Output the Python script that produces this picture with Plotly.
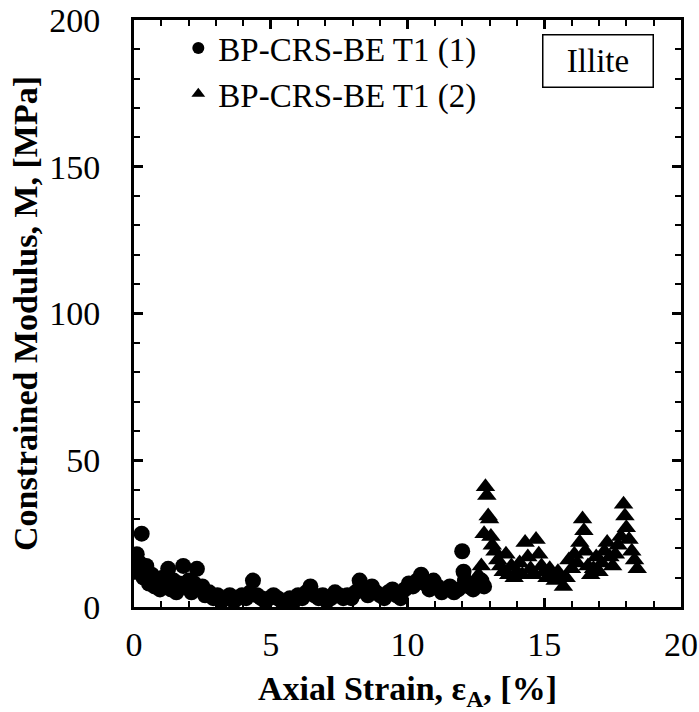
import plotly.graph_objects as go

# BP-CRS-BE T1 (1) - circles
strain_1 = [0.05, 0.1, 0.2, 0.28, 0.35, 0.45, 0.55, 0.65, 0.75, 0.85, 0.95, 1.05, 1.15,
            1.25, 1.35, 1.45, 1.55, 1.65, 1.8, 1.9, 2.0, 2.1, 2.2, 2.3, 2.4, 2.5, 2.6,
            2.75, 2.9, 3.05, 3.2, 3.35, 3.5, 3.65, 3.8, 3.95, 4.1, 4.25, 4.35, 4.5, 4.65,
            4.8, 4.95, 5.1, 5.25, 5.4, 5.55, 5.7, 5.85, 6.0, 6.15, 6.3, 6.45, 6.6, 6.75,
            6.9, 7.05, 7.2, 7.35, 7.5, 7.65, 7.8, 7.95, 8.1, 8.25, 8.4, 8.55, 8.7, 8.85,
            9.0, 9.15, 9.3, 9.45, 9.6, 9.75, 9.9, 10.05, 10.2, 10.35, 10.5, 10.65, 10.8,
            10.95, 11.1, 11.25, 11.4, 11.55, 11.7, 11.85, 12.0, 12.05, 12.1, 12.25, 12.4,
            12.55, 12.7, 12.8]
modulus_1 = [12, 18, 15, 25, 10, 14, 8, 11, 7, 9, 6, 10, 8,
             13, 6, 9, 5, 8, 14, 7, 9, 5, 8, 13, 6, 7, 4,
             5, 3, 4, 2, 3, 4, 2, 3, 4, 3, 5, 9, 4, 3,
             2, 3, 4, 3, 2, 1, 3, 2, 4, 3, 5, 7, 4, 3,
             4, 2, 3, 5, 4, 3, 4, 3, 5, 9, 6, 4, 7, 5,
             4, 3, 5, 6, 4, 3, 6, 8, 7, 9, 11, 8, 6,
             9, 7, 5, 6, 7, 5, 6, 19, 12, 9, 7, 6,
             8, 9, 7]

# BP-CRS-BE T1 (2) - triangles
strain_2 = [12.5, 12.6, 12.7, 12.8, 12.85, 12.9, 12.95, 13.0, 13.05, 13.1, 13.2, 13.3,
            13.4, 13.5, 13.6, 13.7, 13.8, 13.9, 14.0, 14.1, 14.2, 14.3, 14.4, 14.5, 14.6,
            14.7, 14.8, 14.9, 15.0, 15.1, 15.2, 15.3, 15.4, 15.5, 15.6, 15.7, 15.8, 15.9,
            16.0, 16.1, 16.2, 16.3, 16.4, 16.45, 16.5, 16.6, 16.7, 16.8, 16.9, 17.0, 17.1,
            17.2, 17.3, 17.4, 17.5, 17.6, 17.7, 17.8, 17.9, 17.95, 18.0, 18.1, 18.2, 18.3,
            18.4]
modulus_2 = [9, 11, 14, 25, 41, 38, 31, 30, 24, 21, 19, 16,
             14, 12, 18, 11, 14, 10, 12, 15, 11, 22, 17, 13, 11,
             23, 18, 14, 12, 10, 13, 11, 9, 12, 10, 7, 10, 16,
             13, 18, 15, 22, 30, 26, 19, 14, 11, 13, 17, 12, 15,
             19, 22, 17, 14, 18, 21, 24, 35, 31, 27, 23, 19, 16,
             13]

font = "Liberation Serif, Times New Roman, serif"

fig = go.Figure()
fig.add_trace(go.Scatter(x=strain_1, y=modulus_1, mode="markers", name="BP-CRS-BE T1 (1)",
                         marker=dict(symbol="circle", size=16, color="black")))
fig.add_trace(go.Scatter(x=strain_2, y=modulus_2, mode="markers", name="BP-CRS-BE T1 (2)",
                         marker=dict(symbol="triangle-up", size=17, color="black")))

axis_common = dict(
    showline=True, linewidth=3, linecolor="black", mirror="allticks",
    ticks="inside", ticklen=9, tickwidth=3, tickcolor="black",
    showgrid=False, zeroline=False, automargin=False,
    ticklabeloverflow="allow",
    tickfont=dict(family=font, size=34, color="black"),
)

fig.update_xaxes(range=[0, 20], dtick=5, tick0=0,
                 minor=dict(dtick=1, ticks="inside", ticklen=6, tickwidth=2, tickcolor="black"),
                 ticklabelstandoff=5,
                 title=dict(text="<b>Axial Strain, ε<sub>A</sub>, [%]</b>",
                            font=dict(family=font, size=34, color="black"), standoff=30),
                 **axis_common)
fig.update_yaxes(range=[0, 200], dtick=50, tick0=0,
                 minor=dict(dtick=10, ticks="inside", ticklen=6, tickwidth=2, tickcolor="black"),
                 ticklabelstandoff=24,
                 title=dict(text="<b>Constrained Modulus, M, [MPa]</b>",
                            font=dict(family=font, size=34, color="black"), standoff=2),
                 **axis_common)

fig.add_annotation(x=0.849, y=0.931, xref="paper", yref="paper", text="Illite",
                   showarrow=False, xanchor="center", yanchor="middle",
                   width=97, height=39,
                   font=dict(family=font, size=33, color="black"),
                   bordercolor="black", borderwidth=1.5, borderpad=6, bgcolor="white")

fig.update_layout(
    width=699, height=712,
    margin=dict(l=134, r=18, t=20, b=105),
    paper_bgcolor="white", plot_bgcolor="white",
    showlegend=True,
    legend=dict(x=0.081, y=1.0, xanchor="left", yanchor="top",
                bgcolor="rgba(0,0,0,0)", font=dict(family=font, size=33, color="black"),
                itemsizing="constant", tracegroupgap=0),
)

# drop the default 8px page margin so the figure fills the window exactly
fig.write_html("out.html", config={"displayModeBar": False},
               post_script="document.body.style.margin = '0px';")
